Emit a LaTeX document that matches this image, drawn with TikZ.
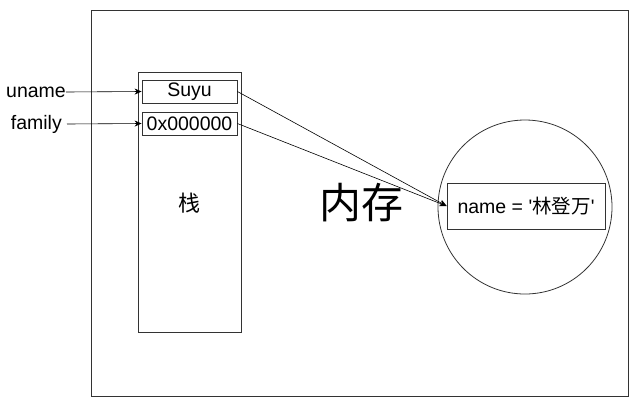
\documentclass[tikz,border=0pt]{standalone}
\usepackage{fontspec}
\setmainfont{Liberation Sans}[Ligatures=TeXOff]
\newfontfamily\cjk{Noto Sans CJK SC}[Ligatures=TeXOff]
\usetikzlibrary{arrows.meta}
\begin{document}
\begin{tikzpicture}[x=1pt,y=-1pt,
  line/.style={draw=black!80,line width=0.8pt},
  cell/.style={line,minimum width=95pt,minimum height=23pt,inner sep=0pt,font=\fontsize{19.5}{22}\selectfont},
  lbl/.style={font=\fontsize{19.5}{22}\selectfont,inner sep=0pt},
  arr/.style={line width=0.6pt,-{Stealth[length=7pt,width=6pt]}}]
\useasboundingbox (0,0) rectangle (636,408);
\node[line,minimum width=537pt,minimum height=386pt,inner sep=0pt] (outer) at (359.5,203) {};
\node[line,minimum width=103pt,minimum height=260pt,inner sep=0pt] (stack) at (189.5,202) {};
\node[cell] (suyu) at (189.5,91.5) {Suyu};
\node[cell] (addr) at (189.5,123.5) {0x000000};
\node[lbl,font=\cjk\fontsize{22}{24}\selectfont] (zhan) at (189,203) {栈};
\node[lbl,anchor=east] (uname) at (66,92) {uname};
\node[lbl,anchor=east] (family) at (62,124) {family};
\node[line,circle,minimum size=174pt,inner sep=0pt] (mem) at (525,207) {};
\node[line,minimum width=158pt,minimum height=46pt,inner sep=0pt,font=\fontsize{19.5}{22}\selectfont] (name) at (526,206) {name = '{\cjk 林登万}'};
\node[lbl,font=\cjk\fontsize{42}{46}\selectfont] (neicun) at (361,203) {内存};
\draw[arr] (uname.east) -- (suyu.west);
\draw[arr] ([xshift=5pt]family.east) -- (addr.west);
\draw[arr] (suyu.east) -- (name.west);
\draw[arr] (addr.east) -- (name.west);
\end{tikzpicture}
\end{document}
